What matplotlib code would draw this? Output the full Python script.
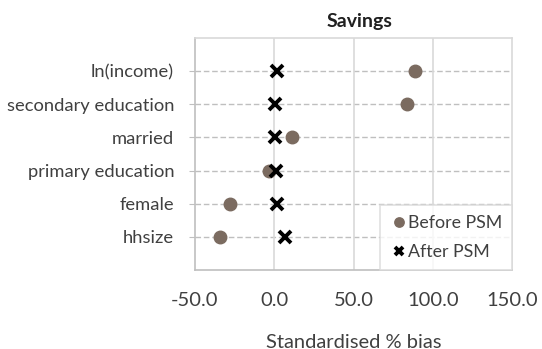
import matplotlib
matplotlib.use("Agg")
import matplotlib.pyplot as plt

categories = ["hhsize", "female", "primary education", "married", "secondary education", "ln(income)"]
before_psm = [-34, -28, -3.5, 11, 84, 89]
after_psm = [7, 1.7, 1, 0.6, 0.6, 1.7]
xticks = [-50, 0, 50, 100, 150]

plt.rcParams['font.family'] = ['Lato', 'DejaVu Sans']

fig = plt.figure(figsize=(5.42, 3.49), dpi=100)
ax = fig.add_axes([195/542, 79/349, 317/542, 232/349])

ypos = list(range(1, len(categories) + 1))
for y in ypos:
    ax.axhline(y, color='#bfbfbf', linestyle=(0, (4, 2)), linewidth=1.0, zorder=1)
for xv in xticks[1:-1]:
    ax.axvline(xv, color='#d9d9d9', linewidth=1.2, zorder=1)

ax.plot(before_psm, ypos, 'o', color='#7b6b60', markersize=9, linestyle='none', zorder=3, label='Before PSM')
ax.plot(after_psm, ypos, marker='x', color='black', markersize=8, markeredgewidth=2.8, linestyle='none', zorder=4, label='After PSM')

ax.set_xlim(-50, 150)
ax.set_ylim(0, 7)
ax.set_xticks(xticks)
ax.set_xticklabels([f"{v:.1f}" for v in xticks], fontsize=14.5, color='#404040')
ax.set_yticks(ypos)
ax.set_yticklabels(categories, fontsize=13.2, color='#404040')
ax.tick_params(axis='x', length=0, pad=15.5)
ax.tick_params(axis='y', length=4, color='#bfbfbf', pad=11)
for s in ax.spines.values():
    s.set_color('#d9d9d9')
    s.set_linewidth(1.2)
ax.spines['bottom'].set_color('#bfbfbf')
ax.spines['left'].set_color('#bfbfbf')

ax.set_xlabel("Standardised % bias", fontsize=14.5, color='#404040', labelpad=18)
ax.set_title("Savings", fontsize=14, fontweight='bold', color='#202020', pad=8, x=0.52)

leg = ax.legend(loc='lower right', fontsize=12.8, frameon=True, fancybox=False,
                edgecolor='#d9d9d9', handletextpad=0.0, handlelength=1.0,
                markerscale=0.75, borderaxespad=0.0, labelspacing=0.75, borderpad=0.55)
for t in leg.get_texts():
    t.set_color('#404040')
leg.get_frame().set_linewidth(1.2)

fig.savefig("out.png", dpi=100, facecolor='white')
